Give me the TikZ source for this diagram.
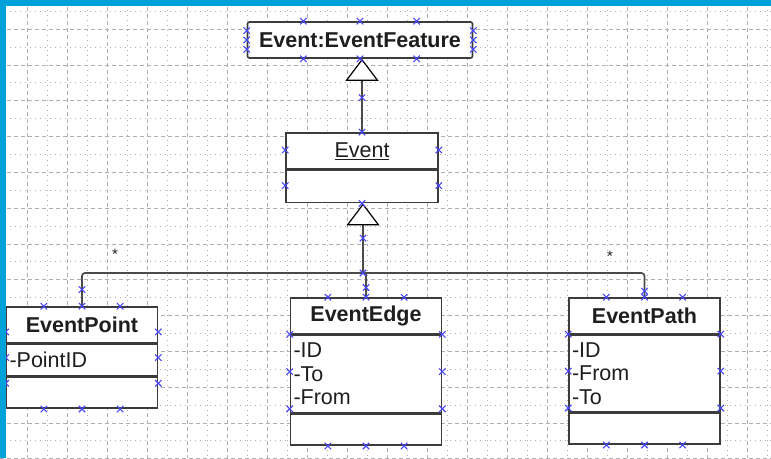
\documentclass[tikz,border=0pt]{standalone}
\usepackage{fontspec}
\setmainfont{Liberation Sans}
\usetikzlibrary{arrows.meta,positioning,calc}

\definecolor{umlgray}{RGB}{60,60,60}
\definecolor{connline}{RGB}{75,75,75}
\definecolor{umltext}{RGB}{30,30,30}
\definecolor{cptblue}{RGB}{70,70,250}
\definecolor{gridgray}{RGB}{175,175,175}
\definecolor{frameblue}{RGB}{0,162,217}

\begin{document}
\begin{tikzpicture}[
  x=1pt, y=-1pt,
  node distance=0pt,
  classname/.style={
    draw=umlgray,
    fill=white,
    line width=1.6pt,
    minimum width=151pt,
    minimum height=36pt,
    inner sep=0pt,
    text=umltext,
    font=\fontsize{21.5}{23.5}\selectfont\bfseries
  },
  compart/.style={
    draw=umlgray,
    fill=white,
    line width=1.6pt,
    minimum width=151pt,
    inner xsep=3pt,
    inner ysep=0pt,
    text width=145pt,
    align=left,
    text=umltext,
    font=\fontsize{21.5}{23.5}\selectfont
  },
  conn/.style={draw=connline, line width=1.7pt},
  gen/.style={conn, -{Triangle[width=33pt, length=22pt, color=black, fill=white, line width=1.2pt]}},
  mult/.style={font=\fontsize{15}{16}\selectfont, text=umltext, inner sep=0pt},
  majorgrid/.style={draw=gridgray, line width=0.6pt, dash pattern=on 4pt off 3pt},
  minorgrid/.style={draw=gridgray, line width=0.6pt, dash pattern=on 1pt off 4pt},
  cpt/.pic={\draw[cptblue, line width=1.1pt] (-3.2,-3.2) -- (3.2,3.2) (-3.2,3.2) -- (3.2,-3.2);}
]
\useasboundingbox (0,0) rectangle (771,458);

% Background grid
\foreach \gx in {27,67,...,747} \draw[majorgrid] (\gx,0) -- (\gx,458);
\foreach \gx in {47,87,...,767} \draw[minorgrid] (\gx,0) -- (\gx,458);
\foreach \k in {0,...,12} \draw[majorgrid] (0,{29+35.8*\k}) -- (771,{29+35.8*\k});
\foreach \k in {0,...,12} \draw[minorgrid] (0,{11.1+35.8*\k}) -- (771,{11.1+35.8*\k});

% Base feature
\node[classname, rounded corners=2pt, minimum width=225pt] (feature) at (360,40) {Event:EventFeature};

% Event class
\node[classname, minimum width=152pt, font=\fontsize{21.5}{23.5}\selectfont] (event) at (362,151) {\underline{Event}};
\node[compart, minimum width=152pt, minimum height=32pt, below=of event] (eventattr) {};

% EventPoint class
\node[classname] (pt) at (82,325) {EventPoint};
\node[compart, minimum height=31pt, below=of pt] (ptattr) {-PointID};
\node[compart, minimum height=31pt, below=of ptattr] (ptops) {};

% EventEdge class
\node[classname] (edge) at (366,316) {EventEdge};
\node[compart, minimum height=77pt, below=of edge] (edgeattr) {-ID\\-To\\-From};
\node[compart, minimum height=31pt, below=of edgeattr] (edgeops) {};

% EventPath class
\node[classname] (evpath) at (644.5,316) {EventPath};
\node[compart, minimum height=76pt, below=of evpath] (evpathattr) {-ID\\-From\\-To};
\node[compart, minimum height=31pt, below=of evpathattr] (evpathops) {};

% Multiplicities
\node[mult] (multpt) at (115,254) {*};
\node[mult] (multpath) at (610,256) {*};

% Generalizations
\coordinate (bus) at (363,273);
\draw[conn, rounded corners=3pt] (pt.north) |- (bus) -| (evpath.north);
\draw[conn] (edge.north) -- (edge.north |- bus);
\draw[gen] (bus) -- (bus |- eventattr.south);
\draw[gen] (event.north) -- (event.north |- feature.south);

% Connection points
\foreach \f in {0.25,0.5,0.75} {
  \pic at ($(feature.north west)!\f!(feature.north east)$) {cpt};
  \pic at ($(feature.south west)!\f!(feature.south east)$) {cpt};
  \pic at ($(feature.north west)!\f!(feature.south west)$) {cpt};
  \pic at ($(feature.north east)!\f!(feature.south east)$) {cpt};
}
\foreach \f in {0.25,0.75} {
  \pic at ($(event.north west)!\f!(eventattr.south west)$) {cpt};
  \pic at ($(event.north east)!\f!(eventattr.south east)$) {cpt};
}
\pic at (event.north) {cpt};
\pic at (eventattr.south) {cpt};
\foreach \c/\o in {pt/ptops, edge/edgeops, evpath/evpathops} {
  \foreach \f in {0.25,0.5,0.75} {
    \pic at ($(\c.north west)!\f!(\c.north east)$) {cpt};
    \pic at ($(\o.south west)!\f!(\o.south east)$) {cpt};
    \pic at ($(\c.north west)!\f!(\o.south west)$) {cpt};
    \pic at ($(\c.north east)!\f!(\o.south east)$) {cpt};
  }
}
\pic at ($(event.north)!0.47!(event.north |- feature.south)$) {cpt};
\pic at ($(bus)!0.5!(bus |- eventattr.south)$) {cpt};
\pic at (bus) {cpt};
\pic at ($(edge.north)!0.4!(edge.north |- bus)$) {cpt};
\pic at ($(pt.north)!0.5!(pt.north |- bus)$) {cpt};
\pic at ($(evpath.north)!0.25!(evpath.north |- bus)$) {cpt};

% Window frame
\fill[frameblue] (0,0) rectangle (771,6);
\fill[frameblue] (0,0) rectangle (6,458);

\end{tikzpicture}
\end{document}
